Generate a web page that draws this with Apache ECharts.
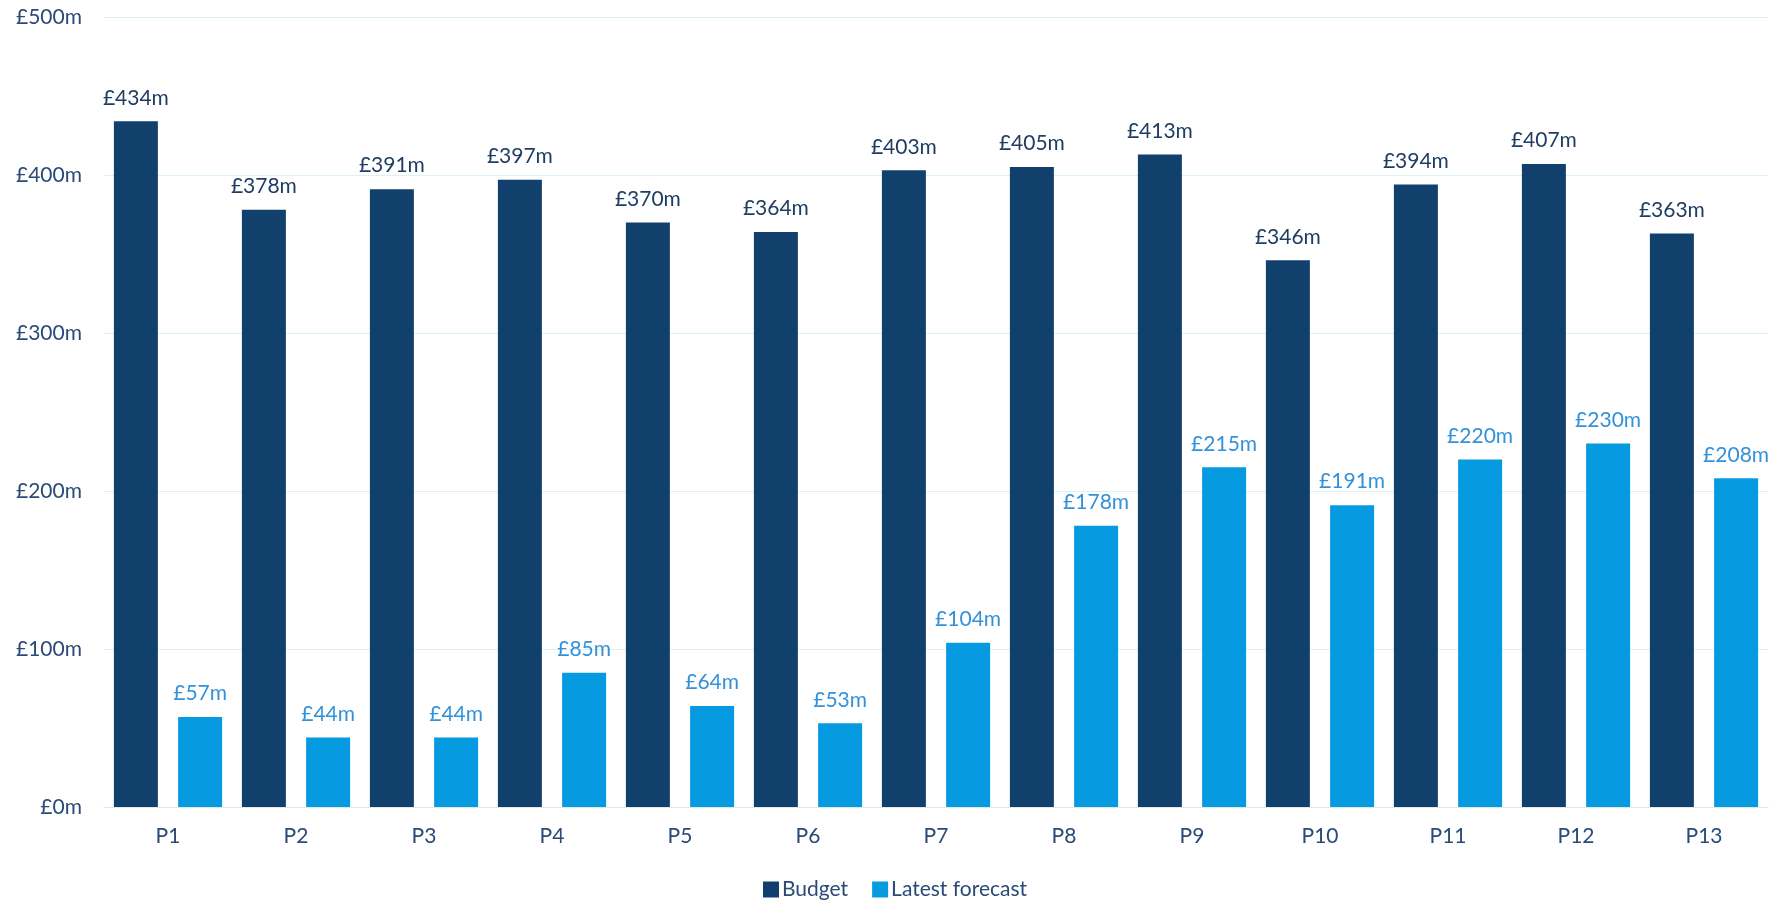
<!DOCTYPE html>
<html>
<head>
<meta charset="utf-8">
<script src="https://cdn.jsdelivr.net/npm/echarts@6/dist/echarts.min.js"></script>
<style>
  html, body { margin: 0; padding: 0; background: #ffffff; }
  #chart { width: 1780px; height: 901px; }
</style>
</head>
<body>
<div id="chart"></div>
<script>
// Periods and spend per period (£m)
const periods = ['P1', 'P2', 'P3', 'P4', 'P5', 'P6', 'P7', 'P8', 'P9', 'P10', 'P11', 'P12', 'P13'];
const budget = [434, 378, 391, 397, 370, 364, 403, 405, 413, 346, 394, 407, 363];
const latestForecast = [57, 44, 44, 85, 64, 53, 104, 178, 215, 191, 220, 230, 208];
const seriesNames = ['Budget', 'Latest forecast'];

const FONT = 'Lato, "Open Sans", sans-serif';
const NAVY = '#12406d';
const SKY = '#069be0';

const chart = echarts.init(document.getElementById('chart'));

const money = v => '£' + v + 'm';

chart.setOption({
  backgroundColor: '#ffffff',
  animation: false,
  textStyle: { fontFamily: FONT },
  grid: { left: 104, right: 12, top: 17, bottom: 94, containLabel: false },
  legend: {
    data: seriesNames,
    left: 762,
    bottom: 0,
    padding: 1,
    itemWidth: 16,
    itemHeight: 16,
    itemGap: 24,
    icon: 'rect',
    textStyle: { fontFamily: FONT, fontSize: 21, color: '#2a4a78', padding: [0, 0, 0, -2] }
  },
  xAxis: {
    type: 'category',
    data: periods,
    axisTick: { show: false },
    axisLine: { show: true, lineStyle: { color: '#e3e6ea', width: 1 } },
    axisLabel: { fontFamily: FONT, fontSize: 21, color: '#2a4a78', margin: 19 }
  },
  yAxis: {
    type: 'value',
    min: 0,
    max: 500,
    interval: 100,
    axisLine: { show: false },
    axisTick: { show: false },
    splitLine: { lineStyle: { color: '#daf3f0', width: 1 } },
    axisLabel: { fontFamily: FONT, fontSize: 21, color: '#2a4a78', margin: 22, formatter: money }
  },
  series: [
    {
      name: seriesNames[0],
      type: 'bar',
      data: budget,
      barWidth: 44,
      barGap: '46%',
      itemStyle: { color: NAVY },
      label: {
        show: true,
        position: 'top',
        distance: 13,
        fontFamily: FONT,
        fontSize: 21,
        color: '#1f3d63',
        formatter: p => money(p.value)
      }
    },
    {
      name: seriesNames[1],
      type: 'bar',
      data: latestForecast,
      barWidth: 44,
      itemStyle: { color: SKY },
      label: {
        show: true,
        position: 'top',
        distance: 13,
        fontFamily: FONT,
        fontSize: 21,
        color: '#3391da',
        formatter: p => money(p.value)
      }
    }
  ]
});
</script>
</body>
</html>
